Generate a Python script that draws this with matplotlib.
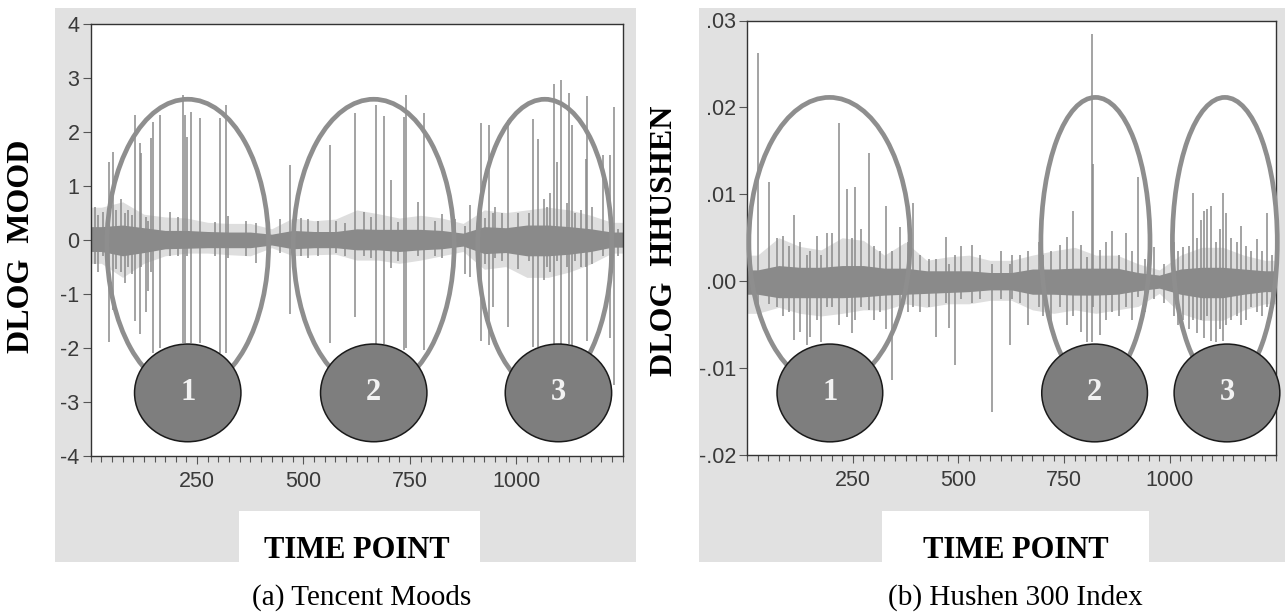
import matplotlib.pyplot as plt
from matplotlib.patches import Ellipse, Rectangle
from matplotlib.ticker import MultipleLocator

W, H = 1285, 612

# ---- data ----
# dense band around zero, per 50-point bin (bin centres 25, 75, ... 1225)
band_t = [25, 75, 125, 175, 225, 275, 325, 375, 425, 475, 525, 575, 625,
          675, 725, 775, 825, 875, 925, 975, 1025, 1075, 1125, 1175, 1225]

mood_core_hi = [0.24, 0.27, 0.22, 0.17, 0.17, 0.15, 0.14, 0.14, 0.1, 0.17, 0.15, 0.15, 0.2,
                0.19, 0.19, 0.19, 0.17, 0.12, 0.24, 0.22, 0.27, 0.27, 0.24, 0.2, 0.14]
mood_core_lo = [-0.22, -0.3, -0.24, -0.17, -0.16, -0.15, -0.15, -0.15, -0.1, -0.17, -0.15, -0.15, -0.19,
                -0.19, -0.22, -0.19, -0.17, -0.12, -0.26, -0.24, -0.3, -0.3, -0.27, -0.22, -0.14]
mood_env_hi = [0.6, 0.7, 0.47, 0.42, 0.4, 0.32, 0.3, 0.3, 0.2, 0.4, 0.35, 0.38, 0.55,
               0.48, 0.4, 0.45, 0.4, 0.3, 0.55, 0.5, 0.55, 0.6, 0.55, 0.45, 0.32]
mood_env_lo = [-0.44, -0.7, -0.44, -0.3, -0.25, -0.25, -0.28, -0.3, -0.15, -0.3, -0.28, -0.27, -0.38,
               -0.38, -0.44, -0.38, -0.3, -0.22, -0.55, -0.5, -0.7, -0.7, -0.6, -0.45, -0.25]

# spikes: time point, top value, bottom value
mood_t = [9, 17, 29, 42, 52, 60, 72, 80, 88, 96, 103, 115, 119, 131, 135, 142, 146, 164,
          186, 205, 217, 222, 227, 236, 256, 291, 303, 319, 323, 366, 389, 444, 468, 495,
          510, 534, 562, 577, 597, 620, 641, 659, 670, 688, 705, 723, 737, 742, 768, 784,
          809, 826, 856, 880, 891, 917, 926, 937, 946, 950, 966, 981, 1005, 1029, 1039,
          1050, 1064, 1072, 1080, 1089, 1095, 1106, 1118, 1125, 1130, 1138, 1152, 1163,
          1165, 1177, 1204, 1220, 1230, 1239]
mood_hi = [0.6, 0.45, 0.52, 1.44, 1.63, 0.55, 0.75, 0.5, 0.55, 0.45, 2.31, 1.79, 1.6, 0.42, 0.35, 1.88, 2.18, 2.31,
           0.52, 0.42, 2.68, 2.3, 1.9, 2.36, 2.25, 0.32, 2.25, 2.49, 0.43, 0.35, 0.3, 0.38, 1.38, 0.4,
           0.38, 0.35, 1.75, 0.35, 0.3, 2.34, 0.51, 0.41, 2.49, 2.29, 1.1, 0.33, 2.27, 2.68, 0.7, 2.35,
           0.35, 0.48, 0.38, 0.25, 0.64, 2.16, 0.4, 2.12, 0.5, 0.6, 0.5, 2.21, 0.5, 0.5, 2.23,
           1.87, 0.75, 0.6, 0.87, 2.89, 1.44, 2.96, 0.67, 2.72, 2.12, 0.5, 0.55, 1.5,
           2.66, 0.6, 1.56, 1.56, 2.46, 0.2]
mood_lo = [-0.45, -0.6, -0.3, -1.9, -1.31, -0.55, -0.6, -0.81, -0.5, -0.63, -1.5, -1.74, -0.5, -1.34, -0.96, -0.6, -2.11, -2.0,
           -0.3, -0.3, -1.92, -1.92, -0.3, -1.92, -1.92, -0.3, -2.11, -2.11, -0.35, -0.3, -0.44, -0.25, -1.37, -0.3,
           -0.35, -0.3, -1.92, -0.25, -0.3, -1.44, -0.3, -0.35, -1.93, -1.93, -0.53, -0.4, -2.05, -2.0, -0.3, -2.05,
           -0.3, -0.35, -0.25, -0.64, -0.69, -1.87, -0.45, -1.96, -1.25, -0.35, -0.4, -1.62, -0.55, -0.4, -1.99,
           -1.99, -0.74, -0.5, -0.6, -1.93, -0.4, -1.93, -0.5, -1.93, -1.99, -0.4, -0.5, -0.5,
           -1.87, -0.45, -0.3, -1.83, -2.7, -0.3]

hs_core_hi = [0.0013, 0.0018, 0.0016, 0.0016, 0.0018, 0.0018, 0.0015, 0.0015, 0.0012, 0.0012, 0.0012, 0.001, 0.001,
              0.0014, 0.0014, 0.0015, 0.0015, 0.0015, 0.001, 0.0007, 0.0014, 0.0016, 0.0016, 0.0014, 0.0012]
hs_core_lo = [-0.0015, -0.0019, -0.0019, -0.0019, -0.0019, -0.0018, -0.0016, -0.0015, -0.0014, -0.0013, -0.0012, -0.001, -0.001,
              -0.0015, -0.0015, -0.0016, -0.0016, -0.0015, -0.0011, -0.0008, -0.0015, -0.0019, -0.0019, -0.0015, -0.0012]
hs_env_hi = [0.003, 0.005, 0.004, 0.0036, 0.005, 0.0047, 0.003, 0.0045, 0.0024, 0.0028, 0.003, 0.0024, 0.0024,
             0.003, 0.0035, 0.0039, 0.003, 0.003, 0.002, 0.0013, 0.003, 0.0039, 0.0039, 0.003, 0.0024]
hs_env_lo = [-0.0037, -0.003, -0.0037, -0.004, -0.0037, -0.0033, -0.0033, -0.0026, -0.003, -0.0026, -0.0026, -0.0022, -0.0022,
             -0.0033, -0.0037, -0.0033, -0.0037, -0.0033, -0.0029, -0.0014, -0.0037, -0.0045, -0.0045, -0.0033, -0.0026]

hs_t = [27, 52, 70, 85, 100, 112, 125, 141, 150, 165, 176, 190, 200, 218, 236, 248, 255, 270, 288,
        300, 315, 328, 343, 362, 380, 393, 410, 430, 446, 470, 478, 493, 507, 531, 550, 579, 600,
        621, 627, 645, 665, 690, 700, 720, 740, 756, 770, 790, 805, 815, 818, 835, 850, 862, 880,
        896, 910, 925, 940, 962, 985, 1010, 1020, 1031, 1045, 1054, 1065, 1073, 1081, 1087, 1097,
        1110, 1118, 1125, 1133, 1145, 1158, 1168, 1180, 1193, 1205, 1218, 1230, 1242]
hs_hi = [0.0263, 0.0114, 0.005, 0.0052, 0.004, 0.0076, 0.0045, 0.003, 0.0035, 0.0052, 0.003, 0.0055, 0.0055, 0.0182, 0.0106, 0.005, 0.0108, 0.006, 0.0148,
         0.0041, 0.0035, 0.0087, 0.0035, 0.0062, 0.0045, 0.009, 0.003, 0.0025, 0.0025, 0.0051, 0.002, 0.003, 0.0041, 0.0042, 0.003, 0.002, 0.0035,
         0.002, 0.003, 0.003, 0.0035, 0.0045, 0.003, 0.0035, 0.0042, 0.0051, 0.0081, 0.0042, 0.0028, 0.0284, 0.0135, 0.0036, 0.0045, 0.0058, 0.003,
         0.0055, 0.0035, 0.012, 0.0025, 0.0039, 0.002, 0.0045, 0.0035, 0.0039, 0.004, 0.0101, 0.005, 0.007, 0.0081, 0.0083, 0.0087,
         0.0045, 0.006, 0.0101, 0.0078, 0.005, 0.0045, 0.0064, 0.004, 0.0035, 0.0049, 0.0035, 0.0078, 0.003]
hs_lo = [-0.0033, -0.0026, -0.003, -0.004, -0.0035, -0.0068, -0.0058, -0.0073, -0.0064, -0.0045, -0.007, -0.003, -0.003, -0.005, -0.0041, -0.006, -0.0045, -0.003, -0.0033,
         -0.0045, -0.0035, -0.0055, -0.0114, -0.003, -0.0035, -0.003, -0.0035, -0.003, -0.0064, -0.0025, -0.0054, -0.0096, -0.002, -0.0025, -0.002, -0.015, -0.002,
         -0.0073, -0.002, -0.0025, -0.005, -0.003, -0.004, -0.0055, -0.003, -0.005, -0.004, -0.0058, -0.007, -0.007, -0.003, -0.0062, -0.0045, -0.0035, -0.004,
         -0.003, -0.0045, -0.0018, -0.0035, -0.002, -0.0025, -0.004, -0.005, -0.0045, -0.0055, -0.0045, -0.006, -0.0045, -0.0065, -0.004, -0.0069,
         -0.007, -0.0055, -0.0069, -0.005, -0.0045, -0.004, -0.005, -0.0045, -0.003, -0.0035, -0.004, -0.003, -0.0035]

# highlighted regions: ellipse centre / width, numbered circle centre
mood_regions = [228, 665, 1067]
mood_region_w = [380, 378, 315]
mood_circles = [228, 665, 1099]
hs_regions = [195, 824, 1130]
hs_region_w = [381, 258, 248]
hs_circles = [196, 822, 1135]

mood_yticks = [-4, -3, -2, -1, 0, 1, 2, 3, 4]
hs_yticks = [-0.02, -0.01, 0.0, 0.01, 0.02, 0.03]
hs_ylabels = ['-.02', '-.01', '.00', '.01', '.02', '.03']
xticks = [250, 500, 750, 1000]

LINE = '#8a8a8a'
RING = '#8e8e8e'
BG = '#e1e1e1'
serif = ['Liberation Serif', 'DejaVu Serif']
sans = ['Liberation Sans', 'DejaVu Sans']


def box(x0, y0, x1, y1, color):
    fig.add_artist(Rectangle((x0 / W, 1 - y1 / H), (x1 - x0) / W, (y1 - y0) / H,
                             transform=fig.transFigure, color=color, lw=0, zorder=0))


def padded(v):
    # carry the first / last bin out to the frame edges
    return [v[0]] + list(v) + [v[-1]]


def panel(rect, env_hi, env_lo, core_hi, core_lo, t, hi, lo, ylim, yticks, ylabels,
          reg, reg_w, circ, ell_cy, ell_h, circ_cy, circ_h):
    ax = fig.add_axes([rect[0] / W, 1 - rect[3] / H, (rect[2] - rect[0]) / W, (rect[3] - rect[1]) / H])
    bx = [0] + band_t + [1250]
    ax.fill_between(bx, padded(env_lo), padded(env_hi), color=LINE, alpha=0.28, lw=0, zorder=2)
    ax.fill_between(bx, padded(core_lo), padded(core_hi), color=LINE, lw=0, zorder=2)
    ax.vlines(t, lo, hi, color=LINE, lw=1.1, zorder=2)
    ax.set_xlim(0, 1250)
    ax.set_ylim(*ylim)
    ax.set_xticks(xticks)
    ax.xaxis.set_minor_locator(MultipleLocator(25))
    ax.set_yticks(yticks)
    ax.set_yticklabels(ylabels)
    ax.tick_params(axis='both', which='major', direction='out', length=6, width=0.8,
                   colors='#555555', labelcolor='#3a3a3a', labelsize=15.5, pad=2)
    ax.tick_params(axis='x', which='minor', direction='out', length=4, width=0.8, colors='#555555')
    ax.tick_params(axis='x', which='major', pad=5)
    for lab in ax.get_xticklabels() + ax.get_yticklabels():
        lab.set_family(sans)
    for s in ax.spines.values():
        s.set_color('#333333')
        s.set_linewidth(1.0)
    for cx, w in zip(reg, reg_w):
        ax.add_patch(Ellipse((cx, ell_cy), w, ell_h, fill=False, ec=RING, lw=3.4, zorder=4, clip_on=False))
    for i, cx in enumerate(circ):
        ax.add_patch(Ellipse((cx, circ_cy), 250, circ_h, fc='#7e7e7e', ec='#1a1a1a', lw=1.1,
                             zorder=5, clip_on=False))
        ax.text(cx, circ_cy, str(i + 1), ha='center', va='center', color='#f2f2f2',
                fontsize=22, fontweight='bold', family=serif, zorder=6)
    return ax


fig = plt.figure(figsize=(W / 100, H / 100), dpi=100)

# grey frames and white label boxes
box(55, 8, 636, 562, BG)
box(699, 8, 1285, 562, BG)
box(239, 511, 480, 562, 'white')
box(882, 511, 1149, 562, 'white')

panel((90.7, 23.7, 622.7, 455.5), mood_env_hi, mood_env_lo, mood_core_hi, mood_core_lo,
      mood_t, mood_hi, mood_lo, (-4, 4), mood_yticks, [str(v) for v in mood_yticks],
      mood_regions, mood_region_w, mood_circles, -0.1, 5.4, -2.84, 1.81)

panel((747, 20.5, 1275.6, 455), hs_env_hi, hs_env_lo, hs_core_hi, hs_core_lo,
      hs_t, hs_hi, hs_lo, (-0.02, 0.03), hs_yticks, hs_ylabels,
      hs_regions, hs_region_w, hs_circles, 0.0045, 0.0333, -0.01286, 0.01125)

fig.text(21.5 / W, 1 - 246 / H, 'DLOG  MOOD', rotation=90, ha='center', va='center',
         fontsize=23, fontweight='bold', family=serif)
fig.text(664 / W, 1 - 241 / H, 'DLOG  HHUSHEN', rotation=90, ha='center', va='center',
         fontsize=23, fontweight='bold', family=serif)

for cx in (357, 1016):
    fig.text(cx / W, 1 - 551 / H, 'TIME POINT', ha='center', va='center',
             fontsize=22, fontweight='bold', family=serif)
fig.text(362 / W, 1 - 598 / H, '(a) Tencent Moods', ha='center', va='center',
         fontsize=21, family=serif)
fig.text(1015 / W, 1 - 598 / H, '(b) Hushen 300 Index', ha='center', va='center',
         fontsize=21, family=serif)

fig.savefig('out.png', dpi=100)
